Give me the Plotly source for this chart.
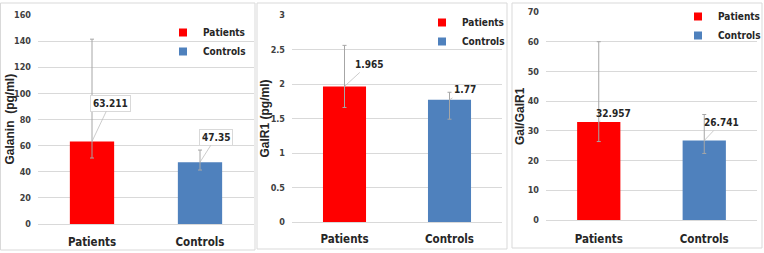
import plotly.graph_objects as go

# ---- data ----
categories = ["Patients", "Controls"]
galanin_mean = [63.211, 47.35]
galanin_upper = [141.5, 56.6]
galanin_lower = [50.5, 41.3]
galr1_mean = [1.965, 1.77]
galr1_upper = [2.56, 1.88]
galr1_lower = [1.66, 1.49]
ratio_mean = [32.957, 26.741]
ratio_upper = [60.0, 35.5]
ratio_lower = [26.4, 22.4]
galanin_ticks = [0, 20, 40, 60, 80, 100, 120, 140, 160]
galr1_ticks = [0, 0.5, 1, 1.5, 2, 2.5, 3]
ratio_ticks = [0, 10, 20, 30, 40, 50, 60, 70]
colors = ["#FF0000", "#4F81BD"]

W, H = 764, 253
FONT = "DejaVu Sans Condensed, Liberation Sans Narrow, Liberation Sans, Arial"

def px(x):
    return x / W

def py(y):
    return 1 - y / H

panels = [
    dict(mean=galanin_mean, up=galanin_upper, lo=galanin_lower, ticks=galanin_ticks,
         rng=[0, 160], xd=[38, 254], yd=[15, 224], title="Galanin  (pg/ml)", fmt=["63.211", "47.35"],
         legend=dict(x=163, y=18), boxed=True,
         offs=[(18, -38), (16, -25)], ytitle_x=10, cat_y=243),
    dict(mean=galr1_mean, up=galr1_upper, lo=galr1_lower, ticks=galr1_ticks,
         rng=[0, 3], xd=[292, 502], yd=[15, 222], title="GalR1 (pg/ml)", fmt=["1.965", "1.77"],
         legend=dict(x=422, y=8), boxed=False,
         offs=[(24, -22), (15, -10)], ytitle_x=265, cat_y=240),
    dict(mean=ratio_mean, up=ratio_upper, lo=ratio_lower, ticks=ratio_ticks,
         rng=[0, 70], xd=[546, 757], yd=[12, 220], title="Gal/GalR1", fmt=["32.957", "26.741"],
         legend=dict(x=678, y=2), boxed=False,
         offs=[(15, -9), (17, -18)], ytitle_x=520, cat_y=240),
]

fig = go.Figure()
annotations = []
layout = {}
for i, p in enumerate(panels):
    n = "" if i == 0 else str(i + 1)
    xa, ya = "x" + n, "y" + n
    leg = "legend" + n
    for j, cat in enumerate(categories):
        fig.add_trace(go.Bar(
            x=[cat], y=[p["mean"][j]], name=cat,
            marker=dict(color=colors[j], line=dict(width=0)),
            width=0.41,
            error_y=dict(type="data", symmetric=False,
                         array=[p["up"][j] - p["mean"][j]],
                         arrayminus=[p["mean"][j] - p["lo"][j]],
                         color="#A6A6A6", thickness=1, width=2),
            xaxis=xa, yaxis=ya, showlegend=False,
        ))
    for j, cat in enumerate(categories):
        # legend entry with a small square swatch
        fig.add_trace(go.Scatter(
            x=[None], y=[None], name="<b>" + cat + "</b>", mode="markers",
            marker=dict(symbol="square", size=8, color=colors[j]),
            xaxis=xa, yaxis=ya, legend=leg, showlegend=True,
        ))
    for j, cat in enumerate(categories):
        ax_off, ay_off = p["offs"][j]
        annotations.append(dict(
            x=cat, y=p["mean"][j], xref=xa, yref=ya,
            text="<b>" + p["fmt"][j] + "</b>", showarrow=True, arrowhead=0,
            arrowwidth=0.8, arrowcolor="#BFBFBF", ax=ax_off, ay=ay_off,
            font=dict(family=FONT, size=10, color="#262626"),
            bgcolor="white" if p["boxed"] else "rgba(0,0,0,0)",
            bordercolor="#D9D9D9" if p["boxed"] else "rgba(0,0,0,0)",
            borderwidth=1, borderpad=2,
        ))
    annotations.append(dict(
        x=px(p["ytitle_x"]), y=py((p["yd"][0] + p["yd"][1]) / 2), xref="paper", yref="paper",
        xanchor="center", yanchor="middle",
        text="<b>" + p["title"] + "</b>", showarrow=False, textangle=-90,
        font=dict(family="Liberation Sans, Arial", size=12, color="#262626"),
    ))
    layout["xaxis" + n] = dict(
        domain=[px(p["xd"][0]), px(p["xd"][1])], anchor=ya, type="category",
        range=[-0.5, 1.5], showgrid=False, showline=False, ticks="",
        tickvals=categories, ticktext=["<b>" + c + "</b>" for c in categories],
        tickfont=dict(family=FONT, size=11.5, color="#262626"),
        ticklabelstandoff=p["cat_y"] - p["yd"][1] - 10,
        automargin=False,
    )
    layout["yaxis" + n] = dict(
        domain=[py(p["yd"][1]), py(p["yd"][0])], anchor=xa, range=p["rng"],
        tickvals=p["ticks"], ticktext=["<b>%g</b>" % t for t in p["ticks"]],
        showgrid=True, gridcolor="#D9D9D9", gridwidth=1, zeroline=True,
        zerolinecolor="#D9D9D9", zerolinewidth=1, showline=False, ticks="",
        tickfont=dict(family=FONT, size=9, color="#404040"), ticklabelstandoff=6,
        automargin=False,
    )
    layout[leg] = dict(
        x=px(p["legend"]["x"]), y=py(p["legend"]["y"]), xanchor="left", yanchor="top",
        bgcolor="rgba(0,0,0,0)", font=dict(family=FONT, size=10, color="#262626"),
        itemwidth=30, tracegroupgap=0,
    )

borders = [(0.5, 3, 255, 250), (257, 3, 507, 249), (512, 3, 762, 248)]
shapes = [dict(type="rect", xref="paper", yref="paper", x0=px(a), x1=px(c), y0=py(d), y1=py(b),
               line=dict(color="#D9D9D9", width=1), layer="below") for a, b, c, d in borders]

fig.update_layout(
    width=W, height=H, margin=dict(l=0, r=0, t=0, b=0, autoexpand=False),
    paper_bgcolor="white", plot_bgcolor="white", barmode="overlay",
    annotations=annotations, shapes=shapes, **layout,
)
fig.write_html("out.html")
